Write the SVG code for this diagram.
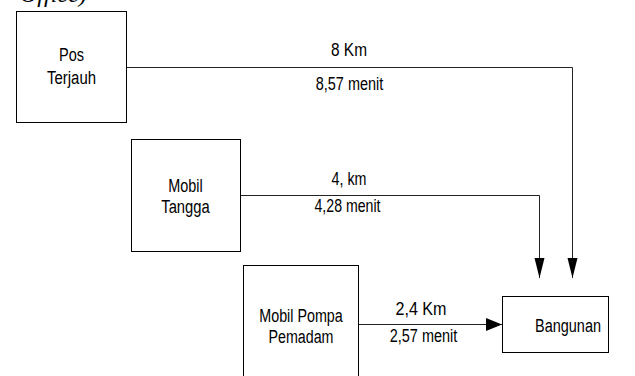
<svg xmlns="http://www.w3.org/2000/svg" width="635" height="376" viewBox="0 0 635 376">
<style>
.box{fill:#fff;stroke:#000;stroke-width:1}
.lbl{font-family:"Liberation Sans",Arial,sans-serif;font-size:18px;fill:#000;text-anchor:middle}
.edge{fill:none;stroke:#222;stroke-width:1}
.cap{font-family:"Liberation Serif","Times New Roman",serif;font-style:italic;font-size:24px;fill:#000}
</style>
<defs>
<marker id="arrV" markerUnits="userSpaceOnUse" markerWidth="20" markerHeight="12" refX="20" refY="6" orient="auto">
<path d="M0,1 L20,6 L0,11 z" fill="#000"/>
</marker>
<marker id="arrH" markerUnits="userSpaceOnUse" markerWidth="16" markerHeight="14" refX="16" refY="7" orient="auto">
<path d="M0,0.5 L16,7 L0,13.5 z" fill="#000"/>
</marker>
</defs>
<rect width="635" height="376" fill="#fff"/>
<text class="cap" x="20" y="2">Office)</text>
<g id="connectors">
<path class="edge" d="M126,67.5 H572.5 V278" marker-end="url(#arrV)"/>
<path class="edge" d="M240,195.5 H539.5 V278" marker-end="url(#arrV)"/>
<path class="edge" d="M358,324.5 H502" marker-end="url(#arrH)"/>
<text class="lbl" x="349" y="56" textLength="36" lengthAdjust="spacingAndGlyphs">8 Km</text>
<text class="lbl" x="349.5" y="90" textLength="67.5" lengthAdjust="spacingAndGlyphs">8,57 menit</text>
<text class="lbl" x="349" y="184.5" textLength="35" lengthAdjust="spacingAndGlyphs">4, km</text>
<text class="lbl" x="347.5" y="212" textLength="66" lengthAdjust="spacingAndGlyphs">4,28 menit</text>
<text class="lbl" x="421" y="314.5" textLength="51" lengthAdjust="spacingAndGlyphs">2,4 Km</text>
<text class="lbl" x="423.5" y="342" textLength="67.5" lengthAdjust="spacingAndGlyphs">2,57 menit</text>
</g>
<g id="pos-terjauh">
<rect class="box" x="16.5" y="11.5" width="110" height="111"/>
<text class="lbl" x="71.5" y="61" textLength="25" lengthAdjust="spacingAndGlyphs">Pos</text>
<text class="lbl" x="71.5" y="83.5" textLength="49" lengthAdjust="spacingAndGlyphs">Terjauh</text>
</g>
<g id="mobil-tangga">
<rect class="box" x="131.5" y="139.5" width="109" height="112"/>
<text class="lbl" x="185.5" y="192" textLength="34.5" lengthAdjust="spacingAndGlyphs">Mobil</text>
<text class="lbl" x="185.5" y="213" textLength="48.5" lengthAdjust="spacingAndGlyphs">Tangga</text>
</g>
<g id="mobil-pompa">
<rect class="box" x="243.5" y="265.5" width="115" height="120"/>
<text class="lbl" x="301" y="322" textLength="83.5" lengthAdjust="spacingAndGlyphs">Mobil Pompa</text>
<text class="lbl" x="301" y="343" textLength="65" lengthAdjust="spacingAndGlyphs">Pemadam</text>
</g>
<g id="bangunan">
<rect class="box" x="502.5" y="296.5" width="106" height="56"/>
<text class="lbl" x="568" y="332" textLength="66" lengthAdjust="spacingAndGlyphs">Bangunan</text>
</g>
</svg>
